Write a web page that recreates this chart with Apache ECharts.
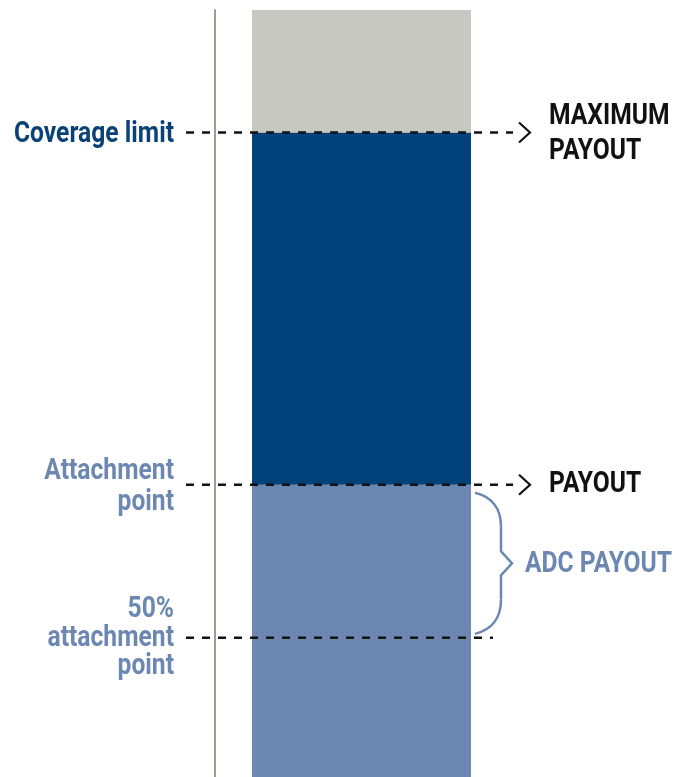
<!DOCTYPE html>
<html>
<head>
<meta charset="utf-8">
<script src="https://cdn.jsdelivr.net/npm/echarts@6/dist/echarts.min.js"></script>
<style>
html,body{margin:0;padding:0;background:#fff;overflow:hidden;width:686px;height:777px;}
#chart{width:686px;height:791px;}
</style>
</head>
<body>
<div id="chart"></div>
<script>
// ---- data ----
const categories = ['Policy'];
const belowAttachment = [100];   // up to attachment point
const coveredLayer = [115];      // attachment point -> coverage limit
const aboveLimit = [40];         // above coverage limit
const attachmentPoint = 100;
const halfAttachmentPoint = 50;
const coverageLimit = 215;
const axisMax = 255;

const FONT = 'Roboto, "Noto Sans", sans-serif';
const DARK = '#02427a';
const LIGHT = '#6b87b2';
const GRAY = '#c7c8c2';

const chart = echarts.init(document.getElementById('chart'), null, {renderer: 'canvas'});
chart.setOption({
  animation: false,
  backgroundColor: '#ffffff',
  grid: {left: 215, right: 178, top: 10, bottom: 0, containLabel: false},
  xAxis: {
    type: 'category', data: categories,
    axisLine: {show: false}, axisTick: {show: false}, axisLabel: {show: false}, splitLine: {show: false}
  },
  yAxis: {
    type: 'value', min: 0, max: axisMax,
    axisLine: {show: true, lineStyle: {color: '#9d9c95', width: 2}},
    axisTick: {show: false}, axisLabel: {show: false}, splitLine: {show: false}
  },
  series: [
    {type: 'bar', stack: 's', data: belowAttachment, barWidth: 219, itemStyle: {color: LIGHT}},
    {type: 'bar', stack: 's', data: coveredLayer, barWidth: 219, itemStyle: {color: DARK}},
    {type: 'bar', stack: 's', data: aboveLimit, barWidth: 219, itemStyle: {color: GRAY}}
  ]
});

const py = v => chart.convertToPixel({yAxisIndex: 0}, v);
const yCov = py(coverageLimit);
const yAtt = py(attachmentPoint);
const yHalf = py(halfAttachmentPoint);

const dash = {stroke: '#111', lineWidth: 2.5, lineDash: [8, 8]};
const arrowStyle = {stroke: '#111', lineWidth: 2.2, fill: null};

function dashed(y, x2) {
  return {type: 'line', z: 10, shape: {x1: 186, y1: y, x2: x2, y2: y}, style: dash};
}
function arrow(y) {
  return {type: 'polyline', z: 10, shape: {points: [[519, y - 10], [530, y], [519, y + 10]]}, style: arrowStyle};
}
function txt(text, x, y, color, align) {
  return {type: 'text', z: 10, x: x, y: y, scaleX: 0.85,
    style: {text: text, x: 0, y: 0, fill: color, align: align, verticalAlign: 'middle',
      font: 'bold 29px ' + FONT}};
}

const bTop = yAtt + 8, bBot = yHalf - 4, bMid = (bTop + bBot) / 2;
const braceStyle = {stroke: LIGHT, lineWidth: 2.5, fill: null};

chart.setOption({
  graphic: [
    dashed(yCov, 513), arrow(yCov),
    dashed(yAtt, 513), arrow(yAtt),
    dashed(yHalf, 493),
    // brace
    {type: 'bezierCurve', z: 10, shape: {x1: 475, y1: bTop, cpx1: 492, cpy1: bTop + 4, cpx2: 501, cpy2: bTop + 16, x2: 501, y2: bTop + 34}, style: braceStyle},
    {type: 'polyline', z: 10, shape: {points: [[501, bTop + 34], [501, bMid - 12], [512, bMid], [501, bMid + 12], [501, bBot - 34]]}, style: braceStyle},
    {type: 'bezierCurve', z: 10, shape: {x1: 501, y1: bBot - 34, cpx1: 501, cpy1: bBot - 16, cpx2: 492, cpy2: bBot - 4, x2: 475, y2: bBot}, style: braceStyle},
    // labels
    txt('Coverage limit', 174, yCov + 2, '#0a4278', 'right'),
    txt('MAXIMUM', 549, 117, '#111111', 'left'),
    txt('PAYOUT', 549, 152, '#111111', 'left'),
    txt('Attachment', 174, yAtt - 13, LIGHT, 'right'),
    txt('point', 174, yAtt + 18, LIGHT, 'right'),
    txt('PAYOUT', 549, yAtt, '#111111', 'left'),
    txt('ADC PAYOUT', 525, bMid + 1, LIGHT, 'left'),
    txt('50%', 174, yHalf - 28, LIGHT, 'right'),
    txt('attachment', 174, yHalf + 1, LIGHT, 'right'),
    txt('point', 174, yHalf + 29, LIGHT, 'right')
  ]
});
</script>
</body>
</html>
